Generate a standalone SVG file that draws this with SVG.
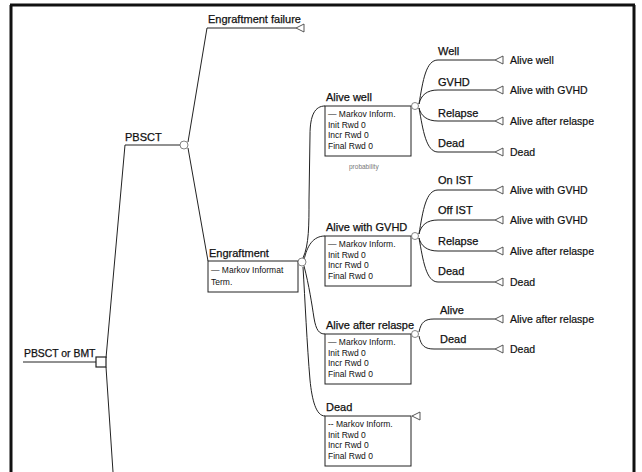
<svg xmlns="http://www.w3.org/2000/svg" width="642" height="472" viewBox="0 0 642 472">
<style>
.ln{fill:none;stroke:#222;stroke-width:1}
.fr{fill:none;stroke:#111;stroke-width:3}
.lbl{font-family:"Liberation Sans",Arial,sans-serif;font-size:11px;fill:#111;stroke:#111;stroke-width:0.25}
.term{font-family:"Liberation Sans",Arial,sans-serif;font-size:10.5px;fill:#111;stroke:#111;stroke-width:0.2}
.sm{font-family:"Liberation Sans",Arial,sans-serif;font-size:8.5px;fill:#111}
.tiny{font-family:"Liberation Sans",Arial,sans-serif;font-size:6.5px;fill:#777}
.box{fill:#fff;stroke:#222;stroke-width:1}
.tri{fill:#fff;stroke:#444;stroke-width:0.9}
.ch{fill:#fff;stroke:#666;stroke-width:0.8}
</style>
<defs>
<polygon id="tri" class="tri" points="0,0 8,-4 8,4"/>
</defs>
<rect width="642" height="472" fill="#fff"/>
<g id="frame">
<line class="fr" x1="11" y1="5" x2="11" y2="472"/>
<line class="fr" x1="10" y1="5" x2="635" y2="5"/>
<line class="fr" x1="634" y1="5" x2="634" y2="472"/>
</g>
<g id="connectors">
<line class="ln" x1="23" y1="362" x2="96" y2="362"/>
<path class="ln" d="M106 358 L125 145 L180 145"/>
<path class="ln" d="M106 367 L113 472"/>
<path class="ln" d="M188 142 L207 28 L296 28"/>
<path class="ln" d="M188 148 L208 261"/>
<path class="ln" d="M303 258 C309 245 309 225 309 200 L310 135 C310 115 315 106 325 106"/>
<path class="ln" d="M304 260 C307 246 313 236 325 236"/>
<path class="ln" d="M304 266 C309 285 312 305 314 318 C316 330 319 334 325 334"/>
<path class="ln" d="M303 267 C305 300 307 345 310 380 C312 400 316 416 325 416"/>
<path class="ln" d="M419 104 C423 80 426 60 438 60 L495 60"/>
<path class="ln" d="M419 104 C421 95 427 90 438 90 L495 90"/>
<path class="ln" d="M419 108 C421 116 427 121 438 121 L495 121"/>
<path class="ln" d="M419 108 C423 130 426 152 438 152 L495 152"/>
<path class="ln" d="M419 234 C423 210 426 190 438 190 L495 190"/>
<path class="ln" d="M419 234 C421 225 427 220 438 220 L495 220"/>
<path class="ln" d="M419 238 C421 246 427 251 438 251 L495 251"/>
<path class="ln" d="M419 238 C423 260 426 282 438 282 L495 282"/>
<path class="ln" d="M419 332 C421 322 425 319 434 319 L495 319"/>
<path class="ln" d="M419 336 C421 346 425 349 434 349 L495 349"/>
</g>
<g id="root">
<rect x="96" y="357" width="10" height="10" fill="#fff" stroke="#222" stroke-width="1.2"/>
<text class="lbl" x="24" y="357" style="font-size:10.4px">PBSCT or BMT</text>
</g>
<g id="pbsct">
<text class="lbl" x="125" y="141">PBSCT</text>
<circle class="ch" cx="184" cy="145" r="4"/>
</g>
<g id="engraftment-failure">
<text class="lbl" x="208" y="23">Engraftment failure</text>
<use href="#tri" x="296" y="28"/>
</g>
<g id="engraftment">
<text class="lbl" x="209" y="257">Engraftment</text>
<rect class="box" x="208" y="261" width="90" height="31"/>
<text class="sm" x="211" y="273">— Markov Informat</text>
<text class="sm" x="211" y="285">Term.</text>
<circle class="ch" cx="302" cy="262" r="4"/>
</g>
<g id="alive-well">
<text class="lbl" x="326" y="101">Alive well</text>
<rect class="box" x="325" y="106" width="86" height="50"/>
<text class="sm" x="328" y="117">— Markov Inform.</text>
<text class="sm" x="328" y="128">Init Rwd 0</text>
<text class="sm" x="328" y="138">Incr Rwd 0</text>
<text class="sm" x="328" y="149">Final Rwd 0</text>
<text class="tiny" x="349" y="169">probability</text>
<circle class="ch" cx="415" cy="106" r="3.5"/>
</g>
<g id="aw-branches">
<text class="lbl" x="438" y="55">Well</text>
<text class="lbl" x="438" y="86">GVHD</text>
<text class="lbl" x="438" y="117">Relapse</text>
<text class="lbl" x="438" y="147">Dead</text>
<use href="#tri" x="495" y="60"/><use href="#tri" x="495" y="90"/><use href="#tri" x="495" y="121"/><use href="#tri" x="495" y="152"/>
<text class="term" x="510" y="64">Alive well</text>
<text class="term" x="510" y="94">Alive with GVHD</text>
<text class="term" x="510" y="125">Alive after relaspe</text>
<text class="term" x="510" y="156">Dead</text>
</g>
<g id="alive-gvhd">
<text class="lbl" x="326" y="231">Alive with GVHD</text>
<rect class="box" x="325" y="236" width="86" height="50"/>
<text class="sm" x="328" y="247">— Markov Inform.</text>
<text class="sm" x="328" y="258">Init Rwd 0</text>
<text class="sm" x="328" y="268">Incr Rwd 0</text>
<text class="sm" x="328" y="279">Final Rwd 0</text>
<circle class="ch" cx="415" cy="236" r="3.5"/>
</g>
<g id="ag-branches">
<text class="lbl" x="438" y="184">On IST</text>
<text class="lbl" x="438" y="214">Off IST</text>
<text class="lbl" x="438" y="245">Relapse</text>
<text class="lbl" x="438" y="275">Dead</text>
<use href="#tri" x="495" y="190"/><use href="#tri" x="495" y="220"/><use href="#tri" x="495" y="251"/><use href="#tri" x="495" y="282"/>
<text class="term" x="510" y="194">Alive with GVHD</text>
<text class="term" x="510" y="224">Alive with GVHD</text>
<text class="term" x="510" y="255">Alive after relaspe</text>
<text class="term" x="510" y="286">Dead</text>
</g>
<g id="alive-relapse">
<text class="lbl" x="326" y="329">Alive after relaspe</text>
<rect class="box" x="325" y="334" width="86" height="50"/>
<text class="sm" x="328" y="345">— Markov Inform.</text>
<text class="sm" x="328" y="356">Init Rwd 0</text>
<text class="sm" x="328" y="366">Incr Rwd 0</text>
<text class="sm" x="328" y="377">Final Rwd 0</text>
<circle class="ch" cx="415" cy="334" r="3.5"/>
</g>
<g id="ar-branches">
<text class="lbl" x="440" y="314">Alive</text>
<text class="lbl" x="440" y="343">Dead</text>
<use href="#tri" x="495" y="319"/><use href="#tri" x="495" y="349"/>
<text class="term" x="510" y="323">Alive after relaspe</text>
<text class="term" x="510" y="353">Dead</text>
</g>
<g id="dead">
<text class="lbl" x="326" y="411">Dead</text>
<rect class="box" x="325" y="416" width="86" height="50"/>
<text class="sm" x="328" y="427">-- Markov Inform.</text>
<text class="sm" x="328" y="438">Init Rwd 0</text>
<text class="sm" x="328" y="448">Incr Rwd 0</text>
<text class="sm" x="328" y="459">Final Rwd 0</text>
<use href="#tri" x="412" y="416"/>
</g>
</svg>
